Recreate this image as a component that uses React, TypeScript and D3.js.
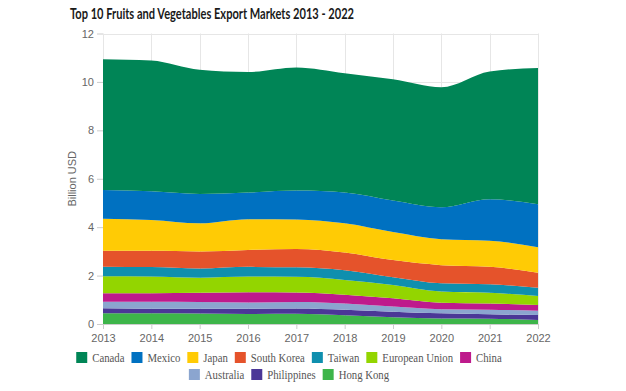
import React, { useRef, useEffect } from 'react';
import * as d3 from 'd3';

const years = [2013, 2014, 2015, 2016, 2017, 2018, 2019, 2020, 2021, 2022];

// billion USD per market
const canada = [5.40, 5.40, 5.13, 4.98, 5.09, 4.93, 5.01, 4.96, 5.28, 5.63];
const mexico = [1.19, 1.18, 1.21, 1.10, 1.19, 1.27, 1.30, 1.32, 1.71, 1.78];
const japan = [1.32, 1.27, 1.16, 1.27, 1.22, 1.21, 1.16, 1.07, 1.08, 1.05];
const southKorea = [0.66, 0.68, 0.71, 0.70, 0.76, 0.73, 0.71, 0.75, 0.72, 0.62];
const taiwan = [0.40, 0.39, 0.38, 0.40, 0.39, 0.40, 0.32, 0.34, 0.35, 0.34];
const europeanUnion = [0.70, 0.69, 0.62, 0.65, 0.65, 0.61, 0.55, 0.46, 0.44, 0.37];
const china = [0.35, 0.35, 0.38, 0.42, 0.39, 0.36, 0.34, 0.27, 0.26, 0.24];
const australia = [0.27, 0.29, 0.28, 0.26, 0.27, 0.26, 0.21, 0.17, 0.19, 0.18];
const philippines = [0.21, 0.19, 0.20, 0.22, 0.22, 0.23, 0.23, 0.21, 0.18, 0.20];
const hongKong = [0.44, 0.44, 0.43, 0.41, 0.42, 0.36, 0.28, 0.23, 0.22, 0.17];

const yTicks = [0, 2, 4, 6, 8, 10, 12];

const series = [
  { name: 'Canada', values: canada, color: '#008556' },
  { name: 'Mexico', values: mexico, color: '#0071c1' },
  { name: 'Japan', values: japan, color: '#ffcb05' },
  { name: 'South Korea', values: southKorea, color: '#e5532b' },
  { name: 'Taiwan', values: taiwan, color: '#0f8fae' },
  { name: 'European Union', values: europeanUnion, color: '#93d500' },
  { name: 'China', values: china, color: '#be1a8c' },
  { name: 'Australia', values: australia, color: '#8ba5cf' },
  { name: 'Philippines', values: philippines, color: '#4b3797' },
  { name: 'Hong Kong', values: hongKong, color: '#3db54a' },
];

const W = 626;
const H = 391;

const App: React.FC = () => {
  const svgRef = useRef<SVGSVGElement>(null);

  useEffect(() => {
    if (!svgRef.current) return;
    const svg = d3.select(svgRef.current);
    svg.selectAll('*').remove();

    const margin = { top: 33.5, right: 88, bottom: 67, left: 103 };
    const x = d3.scaleLinear()
      .domain([years[0], years[years.length - 1]])
      .range([margin.left, W - margin.right]);
    const y = d3.scaleLinear()
      .domain([0, 12])
      .range([H - margin.bottom, margin.top]);

    const table = years.map((yr, i) => {
      const row: any = { year: yr };
      series.forEach(s => { row[s.name] = s.values[i]; });
      return row;
    });
    // bottom of the stack is the last legend entry
    const keys = series.map(s => s.name).reverse();
    const stacked = d3.stack().keys(keys)(table);
    const colorOf = new Map(series.map(s => [s.name, s.color]));

    const grid = svg.append('g').attr('stroke', '#e6e6e6').attr('stroke-width', 1);
    grid.selectAll('line.v')
      .data(years)
      .join('line')
      .attr('x1', d => Math.round(x(d)) + 0.5)
      .attr('x2', d => Math.round(x(d)) + 0.5)
      .attr('y1', y(12))
      .attr('y2', y(0));
    grid.selectAll('line.h')
      .data(yTicks)
      .join('line')
      .attr('x1', x(years[0]))
      .attr('x2', x(years[years.length - 1]))
      .attr('y1', d => Math.round(y(d)) + 0.5)
      .attr('y2', d => Math.round(y(d)) + 0.5);

    const area = d3.area<any>()
      .x(d => x(d.data.year))
      .y0(d => y(d[0]))
      .y1(d => y(d[1]))
      .curve(d3.curveMonotoneX);

    svg.append('g')
      .selectAll('path')
      .data(stacked)
      .join('path')
      .attr('fill', d => colorOf.get(d.key) as string)
      .attr('d', area);

    // x axis
    const xAxis = svg.append('g')
      .attr('transform', `translate(0,${y(0)})`)
      .call(d3.axisBottom(x).tickValues(years).tickFormat(d3.format('d')).tickSize(5).tickSizeOuter(0));
    xAxis.select('.domain').attr('stroke', '#cccccc');
    xAxis.selectAll('.tick line').attr('stroke', '#cccccc');
    xAxis.selectAll('.tick text')
      .attr('fill', '#666666')
      .attr('dy', '0.9em')
      .style('font-family', '"Liberation Sans", Arial, sans-serif')
      .style('font-size', '11px');

    // y axis
    const yAxis = svg.append('g')
      .attr('transform', `translate(${x(years[0])},0)`)
      .call(d3.axisLeft(y).tickValues(yTicks).tickSize(6).tickSizeOuter(0));
    yAxis.select('.domain').remove();
    yAxis.selectAll('.tick line').attr('stroke', '#cccccc');
    yAxis.selectAll('.tick text')
      .attr('fill', '#666666')
      .attr('x', -9)
      .style('font-family', '"Liberation Sans", Arial, sans-serif')
      .style('font-size', '11px');

    svg.append('text')
      .attr('transform', `translate(76,${(y(0) + y(12)) / 2}) rotate(-90)`)
      .attr('text-anchor', 'middle')
      .attr('fill', '#666666')
      .style('font-family', '"Liberation Sans", Arial, sans-serif')
      .style('font-size', '11px')
      .text('Billion USD');

    svg.append('text')
      .attr('x', 70)
      .attr('y', 19)
      .attr('fill', '#1a1a1a')
      .attr('textLength', 284)
      .attr('lengthAdjust', 'spacingAndGlyphs')
      .style('font-family', 'Lato, "Open Sans", sans-serif')
      .style('font-weight', 700)
      .style('font-size', '16px')
      .text('Top 10 Fruits and Vegetables Export Markets 2013 - 2022');

    // legend, two centered rows
    const rows = [series.slice(0, 7), series.slice(7)];
    const rowY = [357.5, 374.5];
    const legendCenter = 289;
    const box = 11;
    const gapText = 5;
    const gapItem = 7;
    const squeeze = 0.86;
    rows.forEach((items, r) => {
      const g = svg.append('g');
      const widths: number[] = [];
      items.forEach(s => {
        const t = g.append('text')
          .attr('fill', '#555555')
          .attr('dominant-baseline', 'central')
          .attr('y', rowY[r])
          .style('font-family', '"Liberation Serif", "Times New Roman", serif')
          .style('font-size', '12.5px')
          .text(s.name);
        const w = (t.node() as SVGTextElement).getComputedTextLength() * squeeze;
        t.attr('textLength', w).attr('lengthAdjust', 'spacingAndGlyphs');
        widths.push(w);
      });
      const total = d3.sum(widths) + items.length * (box + gapText) + (items.length - 1) * gapItem;
      let cx = legendCenter - total / 2;
      const texts = g.selectAll('text').nodes();
      items.forEach((s, i) => {
        g.append('rect')
          .attr('x', cx)
          .attr('y', rowY[r] - box / 2)
          .attr('width', box)
          .attr('height', box)
          .attr('fill', s.color);
        d3.select(texts[i] as SVGTextElement).attr('x', cx + box + gapText);
        cx += box + gapText + widths[i] + gapItem;
      });
    });
  }, []);

  return <svg ref={svgRef} width={W} height={H} style={{ display: 'block', margin: '-8px' }} />;
};

export default App;
